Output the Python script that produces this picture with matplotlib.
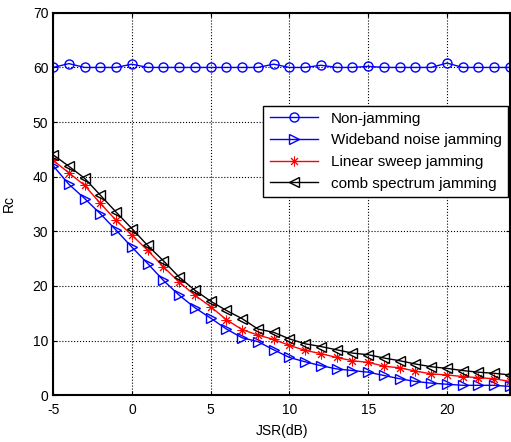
import matplotlib
matplotlib.use("Agg")
import matplotlib.pyplot as plt
import numpy as np

plt.rcParams["font.family"] = ["Liberation Sans", "DejaVu Sans"]
plt.rcParams["axes.unicode_minus"] = False

# JSR sweep, one point per dB
jsr = np.arange(-5, 25)

non_jamming = [60.0, 60.7, 60.0, 60.0, 60.0, 60.6, 60.0, 60.0, 60.0, 60.0,
               60.0, 60.0, 60.0, 60.0, 60.6, 60.0, 60.0, 60.4, 60.0, 60.0,
               60.2, 60.0, 60.0, 60.0, 60.0, 60.8, 60.0, 60.0, 60.0, 60.0]
wideband = [42.0, 38.6, 36.0, 33.2, 30.2, 27.1, 24.1, 21.0, 18.3, 16.0,
            14.1, 12.1, 10.5, 9.8, 8.3, 6.9, 6.1, 5.4, 4.8, 4.5,
            4.2, 3.6, 3.0, 2.5, 2.2, 2.0, 1.8, 1.8, 1.8, 1.6]
linear_sweep = [43.0, 40.7, 38.4, 35.1, 32.0, 29.3, 26.5, 23.5, 20.7, 18.3,
                16.2, 13.8, 12.0, 11.0, 10.2, 9.1, 8.2, 7.6, 6.9, 6.3,
                6.0, 5.3, 5.0, 4.4, 3.9, 3.7, 3.4, 3.2, 3.0, 2.5]
comb = [44.0, 41.9, 39.7, 36.6, 33.5, 30.5, 27.4, 24.6, 21.6, 19.2,
        17.2, 15.5, 14.0, 12.1, 11.5, 10.3, 9.4, 8.9, 8.3, 7.7,
        7.4, 6.8, 6.3, 5.7, 5.2, 4.9, 4.5, 4.2, 4.0, 3.7]

labels = ["Non-jamming", "Wideband noise jamming",
          "Linear sweep jamming", "comb spectrum jamming"]

fig = plt.figure(figsize=(5.11, 4.42), dpi=100)
ax = fig.add_axes([0.104, 0.106, 0.894, 0.865])

ax.plot(jsr, non_jamming, color="blue", lw=1.0, marker="o", ms=6.5,
        mfc="none", mew=1.0, label=labels[0])
ax.plot(jsr, wideband, color="blue", lw=1.0, marker=">", ms=7,
        mfc="none", mew=1.0, label=labels[1])
ax.plot(jsr, linear_sweep, color="red", lw=1.0, marker=(8, 2, 0), ms=7,
        mew=0.7, label=labels[2])
ax.plot(jsr, comb, color="black", lw=1.0, marker="<", ms=7,
        mfc="none", mew=1.0, label=labels[3])

ax.set_xlim(-5, 24)
ax.set_ylim(0, 70)
ax.set_xticks([-5, 0, 5, 10, 15, 20])
ax.set_yticks(range(0, 80, 10))
ax.tick_params(direction="in", labelsize=10, top=True, right=True, length=3)
ax.tick_params(axis="x", pad=6)
ax.grid(True, color="black", ls=":", lw=0.8)
for s in ax.spines.values():
    s.set_linewidth(1.5)

ax.set_xlabel("JSR(dB)", fontsize=10, labelpad=5)
ax.set_ylabel("Rc", fontsize=10, labelpad=12)

leg = ax.legend(loc="upper right", bbox_to_anchor=(0.995, 0.757),
                borderaxespad=0, fontsize=11, handlelength=3.2,
                labelspacing=0.5, fancybox=False, framealpha=1.0,
                edgecolor="black")
leg.get_frame().set_linewidth(1.0)

fig.savefig("out.png", dpi=100)
